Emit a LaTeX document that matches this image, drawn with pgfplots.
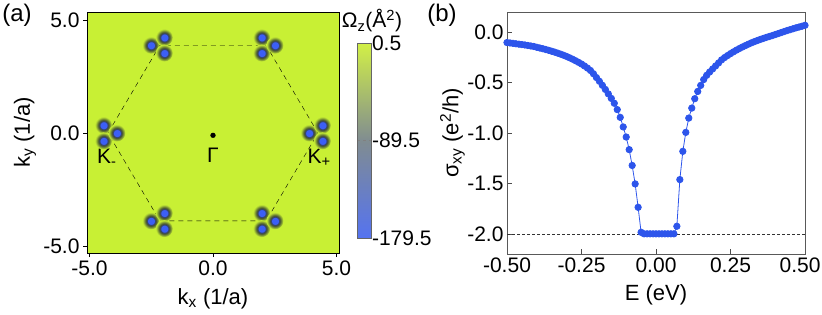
\documentclass[border=0pt]{standalone}
\usepackage{fontspec}
\setmainfont{Liberation Sans}
\usepackage{pgfplots}
\pgfplotsset{compat=1.18}

\definecolor{bgc}{RGB}{200,240,52}
\definecolor{blobblue}{RGB}{60,95,245}
\definecolor{blobdark}{RGB}{50,58,62}
\definecolor{blobmid}{RGB}{95,115,50}
\definecolor{ptblue}{RGB}{45,85,235}

\pgfdeclareradialshading{blobshade}{\pgfpoint{0bp}{0bp}}{color(0bp)=(blobblue); color(10bp)=(blobblue); color(12.5bp)=(blobdark); color(17bp)=(blobmid); color(25bp)=(bgc); color(50bp)=(bgc)}
\pgfdeclareplotmark{blob}{\pgfpathcircle{\pgfpointorigin}{\pgfplotmarksize}\pgfshadepath{blobshade}{0}\pgfusepath{}}

\pgfplotstableread{
E v
-0.50 -0.103
-0.49 -0.107
-0.48 -0.111
-0.47 -0.115
-0.46 -0.119
-0.45 -0.123
-0.44 -0.127
-0.43 -0.132
-0.42 -0.137
-0.41 -0.142
-0.40 -0.150
-0.39 -0.157
-0.38 -0.164
-0.37 -0.172
-0.36 -0.180
-0.35 -0.189
-0.34 -0.198
-0.33 -0.208
-0.32 -0.218
-0.31 -0.229
-0.30 -0.241
-0.29 -0.254
-0.28 -0.268
-0.27 -0.283
-0.26 -0.299
-0.25 -0.316
-0.24 -0.335
-0.23 -0.356
-0.22 -0.380
-0.21 -0.412
-0.20 -0.450
-0.19 -0.487
-0.18 -0.527
-0.17 -0.568
-0.16 -0.612
-0.15 -0.657
-0.14 -0.705
-0.13 -0.768
-0.12 -0.845
-0.11 -0.940
-0.10 -1.040
-0.09 -1.165
-0.08 -1.322
-0.07 -1.505
-0.06 -1.737
-0.05 -1.985
-0.04 -2.000
-0.03 -2.000
-0.02 -2.000
-0.01 -2.000
0.00 -2.000
0.01 -2.000
0.02 -2.000
0.03 -2.000
0.04 -2.000
0.05 -2.000
0.06 -2.000
0.07 -1.925
0.08 -1.462
0.09 -1.182
0.10 -0.994
0.11 -0.852
0.12 -0.753
0.13 -0.660
0.14 -0.588
0.15 -0.528
0.16 -0.470
0.17 -0.428
0.18 -0.395
0.19 -0.365
0.20 -0.335
0.21 -0.305
0.22 -0.275
0.23 -0.252
0.24 -0.232
0.25 -0.213
0.26 -0.195
0.27 -0.178
0.28 -0.162
0.29 -0.147
0.30 -0.133
0.31 -0.119
0.32 -0.106
0.33 -0.094
0.34 -0.083
0.35 -0.072
0.36 -0.062
0.37 -0.052
0.38 -0.043
0.39 -0.034
0.40 -0.024
0.41 -0.014
0.42 -0.004
0.43 0.006
0.44 0.016
0.45 0.025
0.46 0.034
0.47 0.043
0.48 0.051
0.49 0.059
0.50 0.068
}\sigmatable

\begin{document}
\begin{tikzpicture}[font=\fontsize{21}{24}\selectfont]
\path[use as bounding box] (0,0) rectangle (822pt,314pt);

\begin{axis}[
  at={(87pt,61pt)}, anchor=south west,
  width=252pt, height=241pt, scale only axis,
  xmin=-5.1, xmax=5.1, ymin=-5.3, ymax=5.35,
  axis background/.style={fill=bgc},
  xtick={-5,0,5}, ytick={-5,0,5},
  xticklabels={-5.0,0.0,5.0}, yticklabels={-5.0,0.0,5.0},
  tick align=outside, xtick pos=bottom, ytick pos=left,
  major tick length=4pt,
  every tick/.style={black, thin},
  xlabel={k\textsubscript{x} (1/a)},
  ylabel={k\textsubscript{y} (1/a)},
  every axis label/.append style={font=\fontsize{22}{24}\selectfont},
  xlabel style={at={(axis description cs:0.5,-0.19)}, anchor=center},
  ylabel style={at={(axis description cs:-0.246,0.5)}, anchor=center},
  colormap={cm}{rgb255(0cm)=(85,115,240); rgb255(1cm)=(128,140,145); rgb255(2cm)=(210,240,70)},
  point meta min=-179.5, point meta max=0.5,
  colorbar,
  colorbar style={
    at={(parent axis.south east)}, anchor=south west,
    xshift=10pt, yshift=15pt,
    width=14pt, height=195pt, scale only axis,
    ytick={-179.5,-89.5,0.5},
    yticklabels={-179.5,-89.5,0.5},
    ytick pos=right, yticklabel pos=right,
    tick align=inside, major tick length=14pt,
    ytick style={draw=gray, dashed, thin},
    axis line style={draw=black!60},
    yticklabel style={xshift=-3pt},
  },
]
\addplot[only marks, mark=blob, mark size=8.5pt] coordinates {
(-4.43,0.345) (-4.43,-0.345) (-3.89,0)
(1.97,4.225) (1.97,3.535) (2.51,3.88)
(1.97,-3.535) (1.97,-4.225) (2.51,-3.88)
(3.89,0) (4.43,0.345) (4.43,-0.345)
(-2.51,3.88) (-1.97,4.225) (-1.97,3.535)
(-2.51,-3.88) (-1.97,-3.535) (-1.97,-4.225)
};
\addplot[black, thin, dash pattern=on 5pt off 4pt] coordinates {
(-4.25,0) (-2.15,3.88) (2.15,3.88) (4.25,0) (2.15,-3.88) (-2.15,-3.88) (-4.25,0)
};
\addplot[only marks, mark=*, mark size=2.4pt, black] coordinates {(0,-0.1)};
\node at (axis cs:0,-0.98) {Γ};
\node at (axis cs:-4.3,-1.08) {K\textsubscript{-}};
\node at (axis cs:4.3,-1.08) {K\textsubscript{+}};
\end{axis}

\node at (372pt,293pt) {Ω\textsubscript{z}(Å\textsuperscript{2})};
\node[font=\fontsize{24}{26}\selectfont] at (17pt,299pt) {(a)};
\node[font=\fontsize{24}{26}\selectfont] at (442pt,299pt) {(b)};

\begin{axis}[
  at={(507pt,60pt)}, anchor=south west,
  width=298pt, height=242pt, scale only axis,
  xmin=-0.5, xmax=0.5, ymin=-2.2, ymax=0.2,
  xtick={-0.5,-0.25,0,0.25,0.5},
  xticklabels={-0.50,-0.25,0.00,0.25,\hspace*{-10pt}0.50},
  ytick={-2,-1.5,-1,-0.5,0},
  yticklabels={-2.0,-1.5,-1.0,-0.5,0.0},
  tick align=inside, xtick pos=bottom, ytick pos=left,
  major tick length=5pt,
  every tick/.style={black!70, thin},
  axis line style={draw=black!65},
  xlabel={E (eV)},
  ylabel={σ\textsubscript{xy} (e\textsuperscript{2}/h)},
  every axis label/.append style={font=\fontsize{22}{24}\selectfont},
  xlabel style={at={(axis description cs:0.5,-0.17)}, anchor=center},
  ylabel style={at={(axis description cs:-0.183,0.5)}, anchor=center},
]
\addplot[black!80, thin, dash pattern=on 3pt off 2pt] coordinates {(-0.5,-2) (0.5,-2)};
\addplot[ptblue, line width=0.8pt, mark=*, mark size=3.2pt, mark options={fill=ptblue, draw=none}] table[x=E, y=v] {\sigmatable};
\end{axis}
\end{tikzpicture}
\end{document}
